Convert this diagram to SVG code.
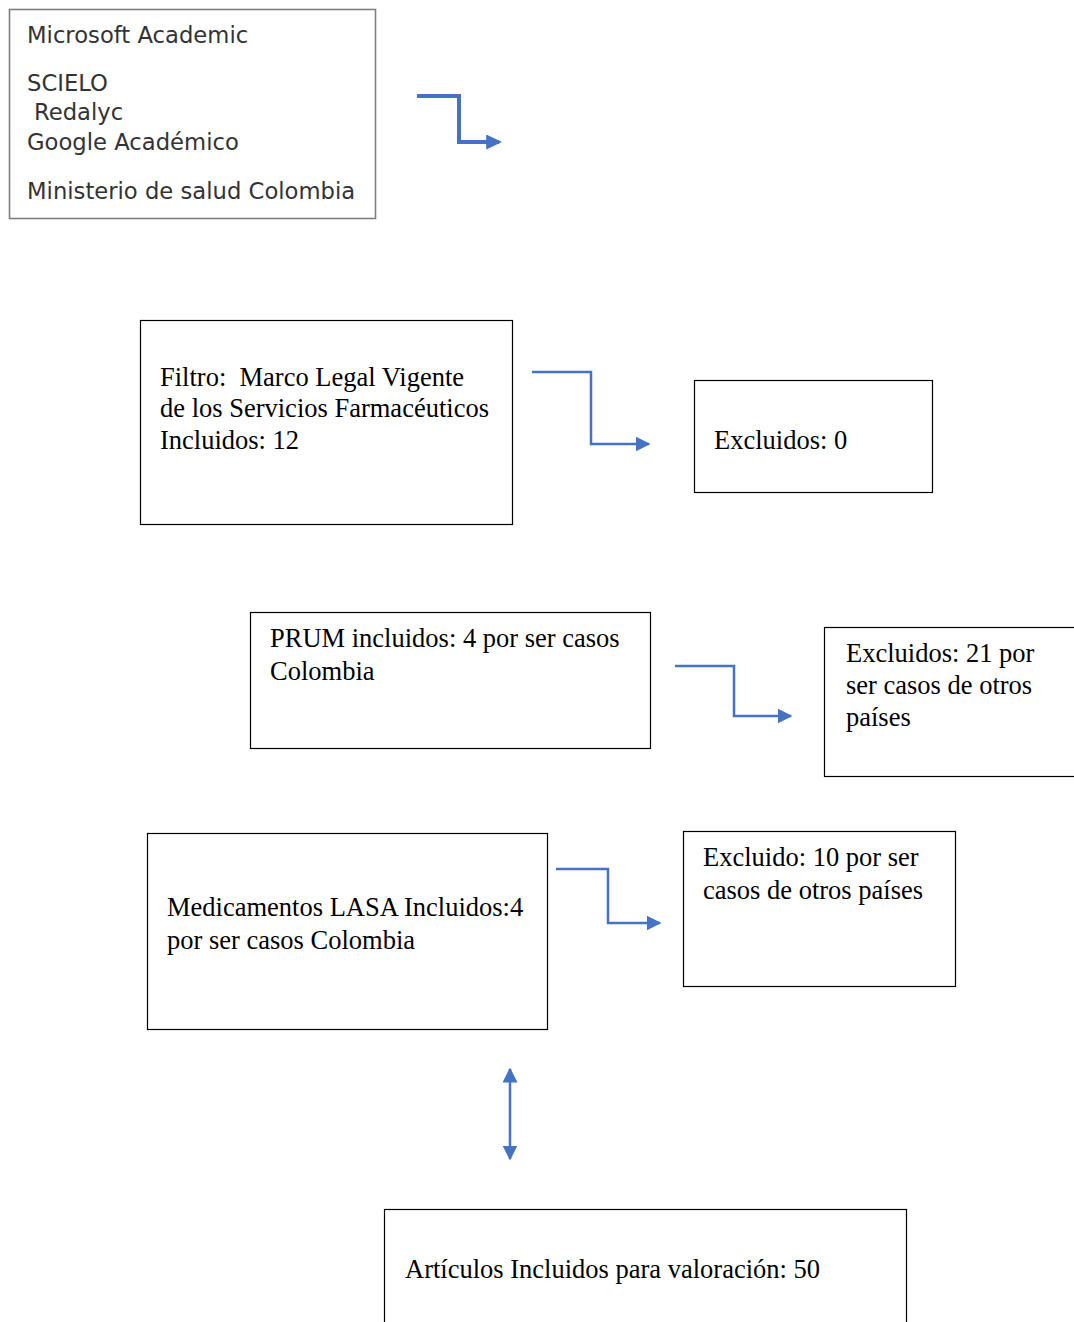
<svg xmlns="http://www.w3.org/2000/svg" width="1074" height="1322" viewBox="0 0 1074 1322">
<style>
.box{fill:#fff;stroke:#000;stroke-width:1.2}
.src{fill:#fff;stroke:#7f7f7f;stroke-width:1.6}
.s{font-family:"DejaVu Sans","Liberation Sans",sans-serif;font-size:22.7px;fill:#333}
.t{font-family:"Liberation Serif","Times New Roman",serif;font-size:26.5px;fill:#000;white-space:pre}
.c{fill:none;stroke:#4472c4;stroke-width:2.5}
.ct{fill:none;stroke:#4472c4;stroke-width:4}
</style>
<defs>
<marker id="ah" viewBox="0 0 10 10" refX="9" refY="5" markerWidth="6" markerHeight="6" markerUnits="strokeWidth" orient="auto-start-reverse"><path d="M0,0 L10,5 L0,10 z" fill="#4472c4"/></marker>
<marker id="ahT" viewBox="0 0 10 10" refX="8" refY="5" markerWidth="16" markerHeight="15" markerUnits="userSpaceOnUse" orient="auto" preserveAspectRatio="none"><path d="M0,0 L10,5 L0,10 z" fill="#4472c4"/></marker>
</defs>
<g id="connectors">
<path class="ct" d="M417,96 H459 V142 H499" marker-end="url(#ahT)"/>
<path class="c" d="M532,372 H591 V444 H649" marker-end="url(#ah)"/>
<path class="c" d="M675,666 H734 V716 H791" marker-end="url(#ah)"/>
<path class="c" d="M556,869 H608 V923 H660" marker-end="url(#ah)"/>
<path class="c" d="M510,1069 V1159" marker-start="url(#ah)" marker-end="url(#ah)"/>
</g>
<g id="sources">
<rect class="src" x="9.5" y="9.5" width="366" height="209"/>
<text class="s" x="27" y="43">Microsoft Academic</text>
<text class="s" x="27" y="91">SCIELO</text>
<text class="s" x="34" y="120">Redalyc</text>
<text class="s" x="27" y="150">Google Académico</text>
<text class="s" x="27" y="199">Ministerio de salud Colombia</text>
</g>
<g id="filtro">
<rect class="box" x="140.5" y="320.5" width="372" height="204"/>
<text class="t" x="160" y="386">Filtro:  Marco Legal Vigente</text>
<text class="t" x="160" y="417">de los Servicios Farmacéuticos</text>
<text class="t" x="160" y="449">Incluidos: 12</text>
</g>
<g id="excluidos0">
<rect class="box" x="694.5" y="380.5" width="238" height="112"/>
<text class="t" x="714" y="449">Excluidos: 0</text>
</g>
<g id="prum">
<rect class="box" x="250.5" y="612.5" width="400" height="136"/>
<text class="t" x="270" y="647">PRUM incluidos: 4 por ser casos</text>
<text class="t" x="270" y="680">Colombia</text>
</g>
<g id="excluidos21">
<rect class="box" x="824.5" y="627.5" width="260" height="149"/>
<text class="t" x="846" y="662">Excluidos: 21 por</text>
<text class="t" x="846" y="694">ser casos de otros</text>
<text class="t" x="846" y="726">países</text>
</g>
<g id="lasa">
<rect class="box" x="147.5" y="833.5" width="400" height="196"/>
<text class="t" x="167" y="916">Medicamentos LASA Incluidos:4</text>
<text class="t" x="167" y="949">por ser casos Colombia</text>
</g>
<g id="excluido10">
<rect class="box" x="683.5" y="831.5" width="272" height="155"/>
<text class="t" x="703" y="866">Excluido: 10 por ser</text>
<text class="t" x="703" y="899">casos de otros países</text>
</g>
<g id="articulos">
<rect class="box" x="384.5" y="1209.5" width="522" height="140"/>
<text class="t" x="405" y="1278">Artículos Incluidos para valoración: 50</text>
</g>
</svg>
